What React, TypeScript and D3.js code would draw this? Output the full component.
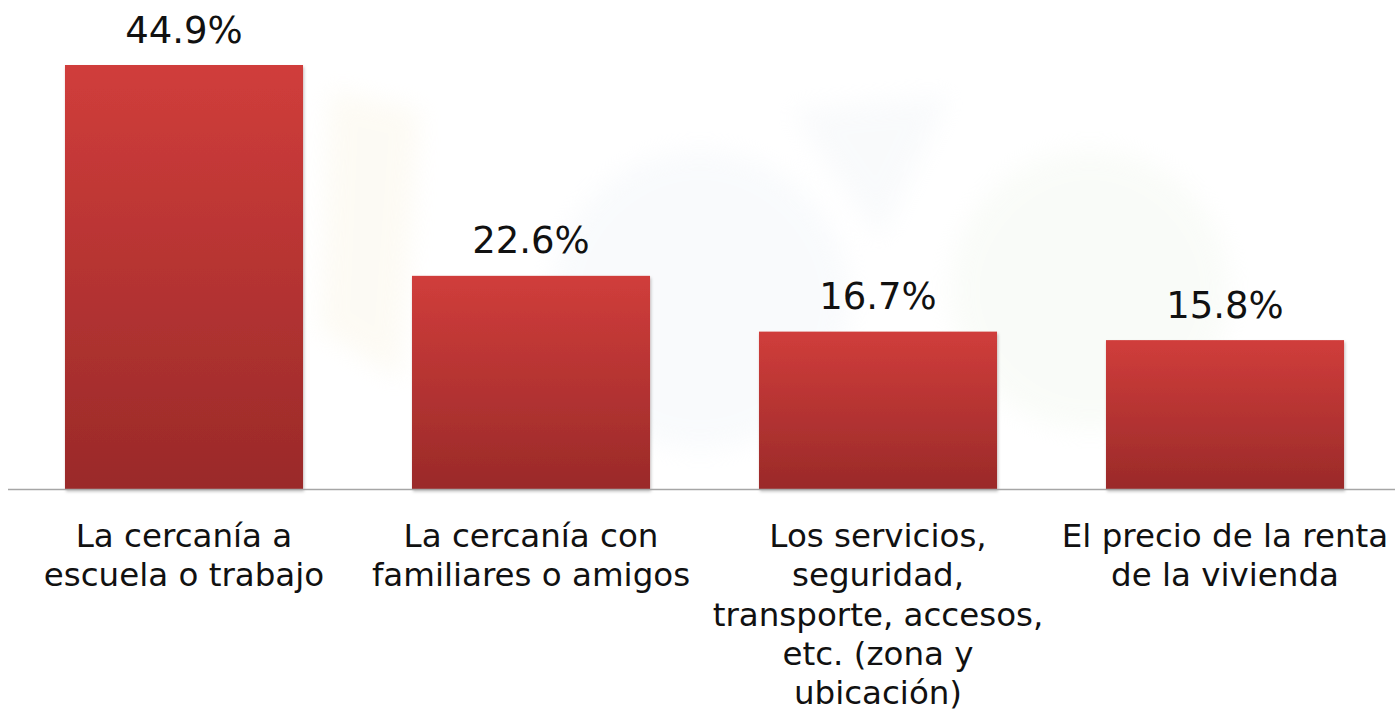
import React from 'react'
import * as d3 from 'd3'

const categories = [
  ['La cercanía a', 'escuela o trabajo'],
  ['La cercanía con', 'familiares o amigos'],
  ['Los servicios,', 'seguridad,', 'transporte, accesos,', 'etc. (zona y', 'ubicación)'],
  ['El precio de la renta', 'de la vivienda'],
]
const values = [44.9, 22.6, 16.7, 15.8]
const valueLabels = ['44.9%', '22.6%', '16.7%', '15.8%']

const width = 1395
const height = 711
const baseline = 489.5
const font = 'DejaVu Sans, Verdana, sans-serif'

export default function App() {
  const x = d3.scaleBand<number>()
    .domain(values.map((_, i) => i))
    .range([10.5, 1398.5])
    .paddingInner(0.314)
    .paddingOuter(0.157)

  const y = d3.scaleLinear()
    .domain([0, 44.9])
    .range([baseline, 65])

  return (
    <svg width={width} height={height}
      style={{ position: 'absolute', left: 0, top: 0, background: '#fff' }}>
      <defs>
        <linearGradient id="barFill" x1="0" y1="0" x2="0" y2="1">
          <stop offset="0%" stopColor="#d03d3b" />
          <stop offset="100%" stopColor="#9a2a29" />
        </linearGradient>
        <filter id="shadow" x="-5%" y="-5%" width="110%" height="110%">
          <feDropShadow dx="1" dy="2" stdDeviation="1.5" floodColor="#000" floodOpacity="0.25" />
        </filter>
        <filter id="blur">
          <feGaussianBlur stdDeviation="12" />
        </filter>
      </defs>

      {/* faint watermark in the background */}
      <g opacity={0.35} filter="url(#blur)">
        <circle cx={700} cy={300} r={150} fill="#eef3f8" />
        <circle cx={1090} cy={290} r={140} fill="#f0f6ec" />
        <path d="M330,90 L420,110 L400,380 L320,330 Z" fill="#f9f3e0" />
        <path d="M790,110 L950,95 L880,240 Z" fill="#eef2f6" />
      </g>

      {values.map((v, i) => (
        <rect key={i}
          x={x(i)}
          y={y(v)}
          width={x.bandwidth()}
          height={baseline - y(v)}
          fill="url(#barFill)"
          filter="url(#shadow)" />
      ))}

      <line x1={8} x2={width} y1={baseline} y2={baseline} stroke="#a6a6a6" strokeWidth={1.5} />

      {values.map((v, i) => (
        <text key={i}
          x={x(i)! + x.bandwidth() / 2}
          y={y(v) - 22.5}
          textAnchor="middle"
          fontFamily={font}
          fontSize={37}
          fill="#111">
          {valueLabels[i]}
        </text>
      ))}

      {categories.map((lines, i) => (
        <text key={i}
          x={x(i)! + x.bandwidth() / 2}
          y={547}
          textAnchor="middle"
          fontFamily={font}
          fontSize={32.5}
          fill="#111">
          {lines.map((l, j) => (
            <tspan key={j} x={x(i)! + x.bandwidth() / 2} dy={j === 0 ? 0 : 39.3}>{l}</tspan>
          ))}
        </text>
      ))}
    </svg>
  )
}
